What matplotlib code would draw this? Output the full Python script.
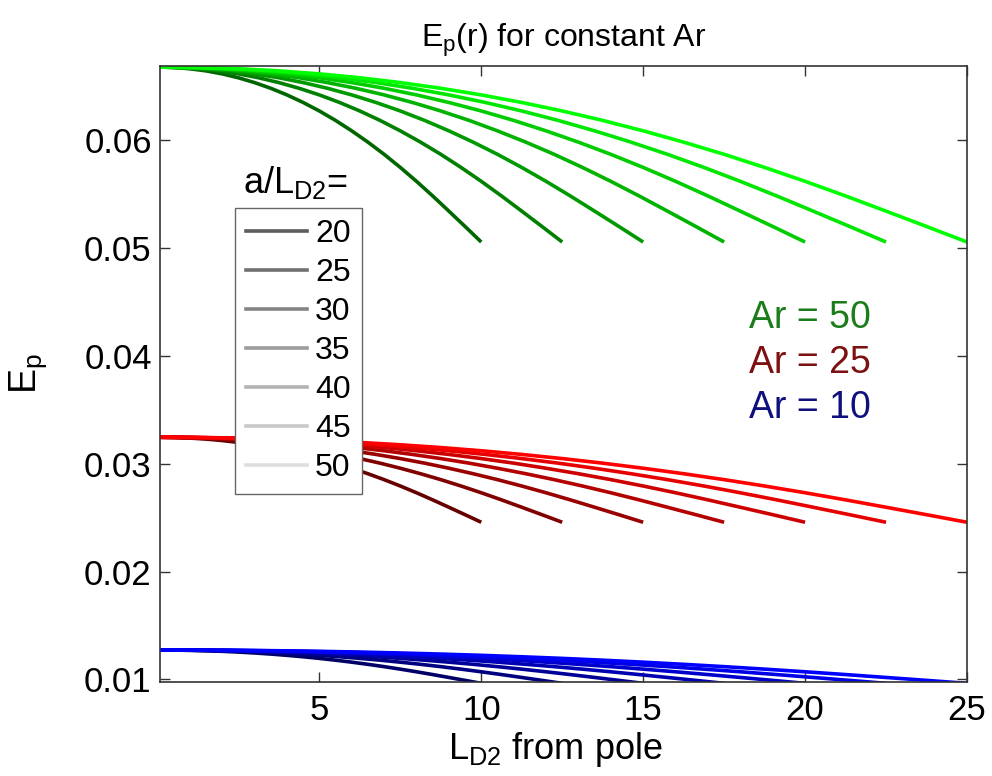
import matplotlib
matplotlib.use('Agg')
import matplotlib.pyplot as plt
import numpy as np

plt.rcParams['font.family'] = ['Liberation Sans', 'DejaVu Sans']
plt.rcParams['mathtext.default'] = 'regular'

# aspect ratios and the pole value of E_p for each
ar_values = [50, 25, 10]
e_pole = [0.0668, 0.03246, 0.01272]
ar_colors = [(0.0, 1.0, 0.0), (1.0, 0.0, 0.0), (0.0, 0.0, 1.0)]
ar_text_colors = ['#1a7d1a', '#7d1010', '#10107d']

# radius a (in L_D2); each curve runs from the pole out to a/2
a_over_ld = [20, 25, 30, 35, 40, 45, 50]
shade = [0.4, 0.5, 0.6, 0.7, 0.8, 0.9, 1.0]
legend_gray = [0.36, 0.44, 0.52, 0.61, 0.70, 0.79, 0.87]

# E_p / E_p(pole) along a curve, s = r / (a/2)
s_frac = [0.0, 0.05, 0.1, 0.15, 0.2, 0.25, 0.3, 0.35, 0.4, 0.45, 0.5,
          0.55, 0.6, 0.65, 0.7, 0.75, 0.8, 0.85, 0.9, 0.95, 1.0]
e_ratio = [1.000, 0.9994, 0.9976, 0.9947, 0.9905, 0.9851, 0.9784, 0.9705,
           0.9613, 0.9508, 0.9390, 0.9259, 0.9114, 0.8957, 0.8788, 0.8606,
           0.8413, 0.8210, 0.7999, 0.7786, 0.7570]

fig = plt.figure(figsize=(9.92, 7.76), dpi=100)
ax = fig.add_axes([0.1613, 0.1215, 0.8135, 0.7935])

s = np.array(s_frac)
g = np.array(e_ratio)
for e0, base in zip(e_pole, ar_colors):
    for a, f in zip(a_over_ld, shade):
        col = tuple(c * f for c in base)
        ax.plot(s * a / 2, e0 * g, color=col, lw=2.6, solid_capstyle='butt')

# grey legend for the a/L_D2 values
handles = [plt.Line2D([], [], color=str(gl), lw=2.6) for gl in legend_gray]
leg = ax.legend(handles, [str(a) for a in a_over_ld], loc='upper left',
                bbox_to_anchor=(0.093, 0.7694), fontsize=23, frameon=True,
                fancybox=False, framealpha=1, edgecolor='#666666',
                handlelength=1.9, handletextpad=0.25, labelspacing=0.28,
                borderpad=0.35, borderaxespad=0.0)
leg.get_frame().set_linewidth(1.0)
leg.set_zorder(10)
ax.text(0.103, 0.81, 'a/L$_{D2}$=', transform=ax.transAxes, fontsize=26,
        va='center', ha='left')

ar_y = [0.590, 0.518, 0.445]
for ar, tc, yy in zip(ar_values, ar_text_colors, ar_y):
    ax.text(0.73, yy, f'Ar = {ar}', transform=ax.transAxes,
            color=tc, fontsize=27, va='center', ha='left')

ax.set_xlim(0.08, 25)
ax.set_ylim(0.00978, 0.0669)
ax.set_xticks([5, 10, 15, 20, 25])
ax.set_yticks([0.01, 0.02, 0.03, 0.04, 0.05, 0.06])
ax.set_yticklabels(['0.01', '0.02', '0.03', '0.04', '0.05', '0.06'])
ax.tick_params(direction='in', length=7, width=1, top=True, right=True,
               labelsize=25, colors='#333333', labelcolor='black')
ax.tick_params(axis='y', pad=6)
ax.tick_params(axis='x', pad=9)
for sp in ax.spines.values():
    sp.set_color('#333333')
    sp.set_linewidth(1.2)

ax.set_title('E$_p$(r) for constant Ar', fontsize=23, pad=14)
ax.set_xlabel('L$_{D2}$ from pole', fontsize=26)
ax.xaxis.set_label_coords(0.49, -0.078)
ax.set_ylabel('E$_p$', fontsize=27)
ax.yaxis.set_label_coords(-0.137, 0.5)

fig.savefig('out.png', dpi=100)
